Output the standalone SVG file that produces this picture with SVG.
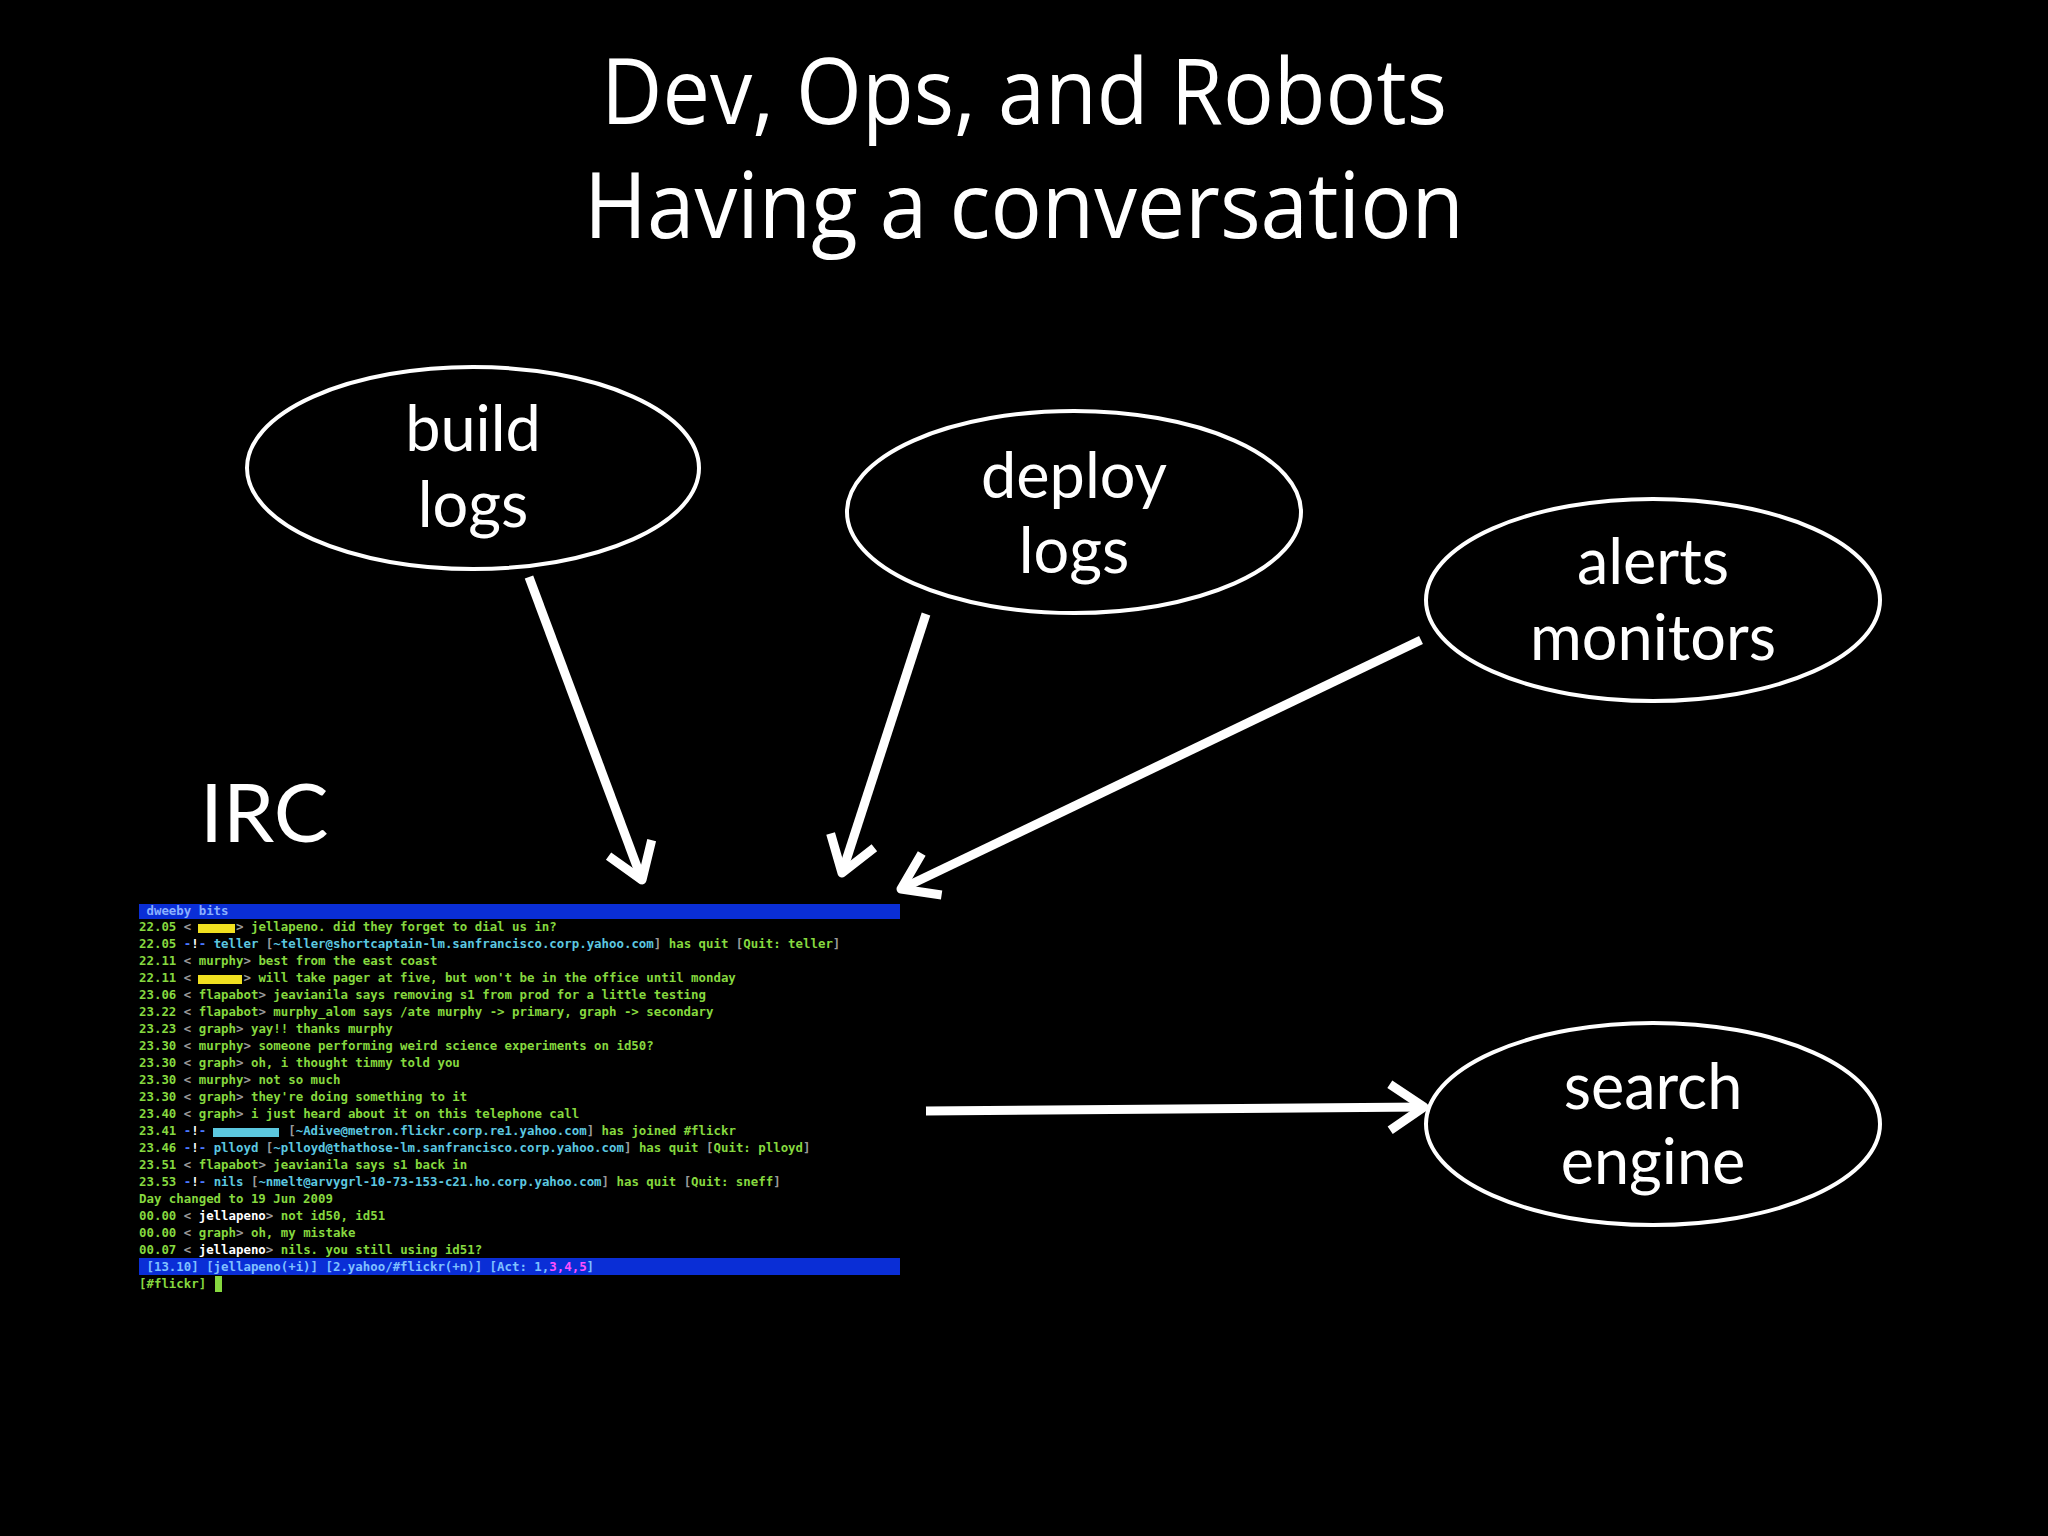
<svg xmlns="http://www.w3.org/2000/svg" width="2048" height="1536" viewBox="0 0 2048 1536">
<defs>
<style>
.title{font-family:"Open Sans","Liberation Sans",sans-serif;font-size:91px;fill:#fff;text-anchor:middle}
.lbl{font-family:Lato,"Open Sans",sans-serif;font-size:63px;fill:#fff;text-anchor:middle}
.node{fill:none;stroke:#fff;stroke-width:4}
.conn{fill:none;stroke:#fff;stroke-width:9;marker-end:url(#arr)}
.irc{font-family:"DejaVu Sans Mono","Liberation Mono",monospace;font-size:12.4px;font-weight:bold}
.g{fill:#86d83f}.d{fill:#9a9a9a}.b{fill:#4a78ff}.c{fill:#5cc8e0}.w{fill:#ffffff}.h{fill:#8ab0ff}.s{fill:#7fc0ff}.m{fill:#ff50ff}
</style>
<marker id="arr" markerUnits="userSpaceOnUse" viewBox="-50 -35 60 70" refX="0" refY="0" markerWidth="60" markerHeight="70" orient="auto" overflow="visible">
<path d="M -34 -23 L 0 0 L -34 23" fill="none" stroke="#fff" stroke-width="9" stroke-linejoin="round"/>
</marker>
</defs>
<rect width="2048" height="1536" fill="#000"/>

<g id="title">
<text class="title" x="1024" y="124" textLength="846" lengthAdjust="spacingAndGlyphs">Dev, Ops, and Robots</text>
<text class="title" x="1024" y="238" textLength="880" lengthAdjust="spacingAndGlyphs">Having a conversation</text>
</g>

<g id="node-build-logs">
<ellipse class="node" cx="473" cy="468" rx="226" ry="101"/>
<text class="lbl" x="473" y="451">build</text>
<text class="lbl" x="473" y="527">logs</text>
</g>

<g id="node-deploy-logs">
<ellipse class="node" cx="1074" cy="512" rx="227" ry="101"/>
<text class="lbl" x="1074" y="498">deploy</text>
<text class="lbl" x="1074" y="573">logs</text>
</g>

<g id="node-alerts-monitors">
<ellipse class="node" cx="1653" cy="600" rx="227" ry="101"/>
<text class="lbl" x="1653" y="584">alerts</text>
<text class="lbl" x="1653" y="660">monitors</text>
</g>

<g id="node-search-engine">
<ellipse class="node" cx="1653" cy="1124" rx="227" ry="101"/>
<text class="lbl" x="1653" y="1109">search</text>
<text class="lbl" x="1653" y="1184">engine</text>
</g>

<g id="node-irc">
<text x="200" y="842" style="font-family:Lato,'Open Sans',sans-serif;font-size:82px;fill:#fff">IRC</text>
<g id="irc-screenshot" class="irc">
<rect x="139" y="904" width="761" height="15" fill="#0a2ed6"/>
<text x="139" y="915" class="h">&#160;dweeby bits</text>
<rect x="198" y="924" width="37" height="9" fill="#f0e020"/>
<text x="139" y="931"><tspan class="g">22.05 </tspan><tspan class="d">&lt;</tspan><tspan class="g">&#160;&#160;&#160;&#160;&#160;&#160;</tspan><tspan class="d">&gt;</tspan><tspan class="g"> jellapeno. did they forget to dial us in?</tspan></text>
<text x="139" y="948"><tspan class="g">22.05 </tspan><tspan class="b">-</tspan><tspan class="w">!</tspan><tspan class="b">-</tspan><tspan class="c"> teller </tspan><tspan class="d">[</tspan><tspan class="c">~teller@shortcaptain-lm.sanfrancisco.corp.yahoo.com</tspan><tspan class="d">]</tspan><tspan class="g"> has quit </tspan><tspan class="d">[</tspan><tspan class="g">Quit: teller</tspan><tspan class="d">]</tspan></text>
<text x="139" y="965"><tspan class="g">22.11 </tspan><tspan class="d">&lt;</tspan><tspan class="g"> murphy</tspan><tspan class="d">&gt;</tspan><tspan class="g"> best from the east coast</tspan></text>
<rect x="198" y="975" width="44" height="9" fill="#f0e020"/>
<text x="139" y="982"><tspan class="g">22.11 </tspan><tspan class="d">&lt;</tspan><tspan class="g">&#160;&#160;&#160;&#160;&#160;&#160;&#160;</tspan><tspan class="d">&gt;</tspan><tspan class="g"> will take pager at five, but won't be in the office until monday</tspan></text>
<text x="139" y="999"><tspan class="g">23.06 </tspan><tspan class="d">&lt;</tspan><tspan class="g"> flapabot</tspan><tspan class="d">&gt;</tspan><tspan class="g"> jeavianila says removing s1 from prod for a little testing</tspan></text>
<text x="139" y="1016"><tspan class="g">23.22 </tspan><tspan class="d">&lt;</tspan><tspan class="g"> flapabot</tspan><tspan class="d">&gt;</tspan><tspan class="g"> murphy_alom says /ate murphy -&gt; primary, graph -&gt; secondary</tspan></text>
<text x="139" y="1033"><tspan class="g">23.23 </tspan><tspan class="d">&lt;</tspan><tspan class="g"> graph</tspan><tspan class="d">&gt;</tspan><tspan class="g"> yay!! thanks murphy</tspan></text>
<text x="139" y="1050"><tspan class="g">23.30 </tspan><tspan class="d">&lt;</tspan><tspan class="g"> murphy</tspan><tspan class="d">&gt;</tspan><tspan class="g"> someone performing weird science experiments on id50?</tspan></text>
<text x="139" y="1067"><tspan class="g">23.30 </tspan><tspan class="d">&lt;</tspan><tspan class="g"> graph</tspan><tspan class="d">&gt;</tspan><tspan class="g"> oh, i thought timmy told you</tspan></text>
<text x="139" y="1084"><tspan class="g">23.30 </tspan><tspan class="d">&lt;</tspan><tspan class="g"> murphy</tspan><tspan class="d">&gt;</tspan><tspan class="g"> not so much</tspan></text>
<text x="139" y="1101"><tspan class="g">23.30 </tspan><tspan class="d">&lt;</tspan><tspan class="g"> graph</tspan><tspan class="d">&gt;</tspan><tspan class="g"> they're doing something to it</tspan></text>
<text x="139" y="1118"><tspan class="g">23.40 </tspan><tspan class="d">&lt;</tspan><tspan class="g"> graph</tspan><tspan class="d">&gt;</tspan><tspan class="g"> i just heard about it on this telephone call</tspan></text>
<rect x="213" y="1128" width="66" height="9" fill="#5cc8e0"/>
<text x="139" y="1135"><tspan class="g">23.41 </tspan><tspan class="b">-</tspan><tspan class="w">!</tspan><tspan class="b">-</tspan><tspan class="c">&#160;&#160;&#160;&#160;&#160;&#160;&#160;&#160;&#160;&#160;&#160;</tspan><tspan class="d">[</tspan><tspan class="c">~Adive@metron.flickr.corp.re1.yahoo.com</tspan><tspan class="d">]</tspan><tspan class="g"> has joined #flickr</tspan></text>
<text x="139" y="1152"><tspan class="g">23.46 </tspan><tspan class="b">-</tspan><tspan class="w">!</tspan><tspan class="b">-</tspan><tspan class="c"> plloyd </tspan><tspan class="d">[</tspan><tspan class="c">~plloyd@thathose-lm.sanfrancisco.corp.yahoo.com</tspan><tspan class="d">]</tspan><tspan class="g"> has quit </tspan><tspan class="d">[</tspan><tspan class="g">Quit: plloyd</tspan><tspan class="d">]</tspan></text>
<text x="139" y="1169"><tspan class="g">23.51 </tspan><tspan class="d">&lt;</tspan><tspan class="g"> flapabot</tspan><tspan class="d">&gt;</tspan><tspan class="g"> jeavianila says s1 back in</tspan></text>
<text x="139" y="1186"><tspan class="g">23.53 </tspan><tspan class="b">-</tspan><tspan class="w">!</tspan><tspan class="b">-</tspan><tspan class="c"> nils </tspan><tspan class="d">[</tspan><tspan class="c">~nmelt@arvygrl-10-73-153-c21.ho.corp.yahoo.com</tspan><tspan class="d">]</tspan><tspan class="g"> has quit </tspan><tspan class="d">[</tspan><tspan class="g">Quit: sneff</tspan><tspan class="d">]</tspan></text>
<text x="139" y="1203" class="g">Day changed to 19 Jun 2009</text>
<text x="139" y="1220"><tspan class="g">00.00 </tspan><tspan class="d">&lt;</tspan><tspan class="w"> jellapeno</tspan><tspan class="d">&gt;</tspan><tspan class="g"> not id50, id51</tspan></text>
<text x="139" y="1237"><tspan class="g">00.00 </tspan><tspan class="d">&lt;</tspan><tspan class="g"> graph</tspan><tspan class="d">&gt;</tspan><tspan class="g"> oh, my mistake</tspan></text>
<text x="139" y="1254"><tspan class="g">00.07 </tspan><tspan class="d">&lt;</tspan><tspan class="w"> jellapeno</tspan><tspan class="d">&gt;</tspan><tspan class="g"> nils. you still using id51?</tspan></text>
<rect x="139" y="1258" width="761" height="17" fill="#0a2ed6"/>
<text x="139" y="1271"><tspan class="s">&#160;[13.10] [jellapeno(+i)] [2.yahoo/#flickr(+n)] [Act: 1,</tspan><tspan class="m">3,4,5</tspan><tspan class="s">]</tspan></text>
<text x="139" y="1288" class="g">[#flickr]</text>
<rect x="215" y="1276" width="7" height="16" fill="#86d83f"/>
</g>
</g>

<g id="connectors">
<path class="conn" d="M529,577 L642,880"/>
<path class="conn" d="M926,614 L842,873"/>
<path class="conn" d="M1421,640 L901,889"/>
<path class="conn" d="M926,1111 L1424,1107"/>
</g>
</svg>
